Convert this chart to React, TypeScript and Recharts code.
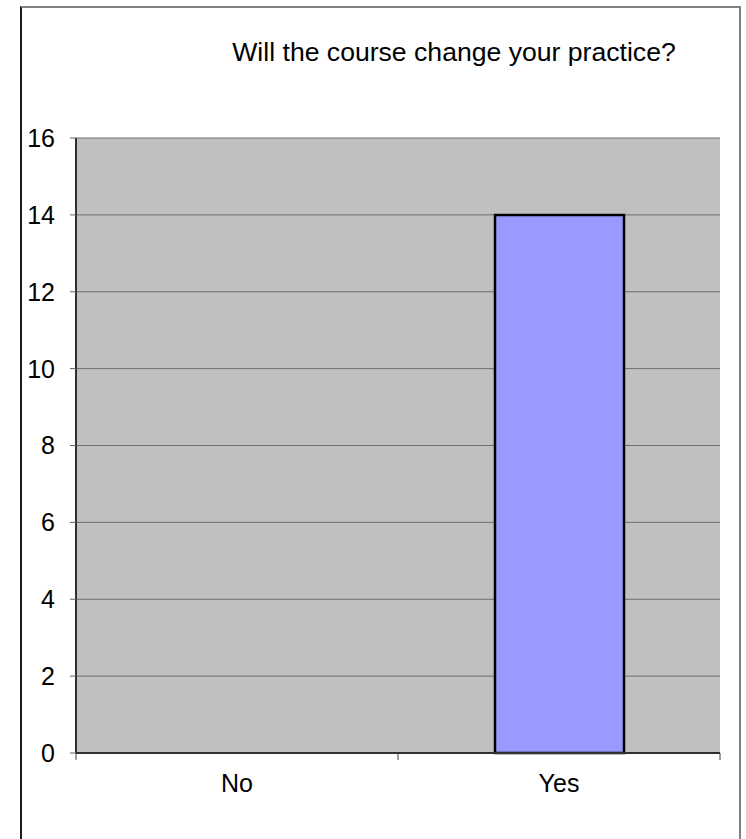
import { BarChart, Bar, XAxis, YAxis, CartesianGrid } from "recharts";

const categories = ["No", "Yes"];
const responses = [0, 14];
const yTicks = [0, 2, 4, 6, 8, 10, 12, 14, 16];

const data = categories.map((answer, i) => ({ answer, count: responses[i] }));

const font = "'Liberation Sans', Arial, sans-serif";
const X_TICK_SIZE = 7;
const X_TICK_MARGIN = 14;

// category labels in the middle, tick marks on the band edges (like Excel)
function CategoryTick(props: any) {
    const { x, y, payload, index } = props;
    const half = payload.offset || 0;
    const axisY = y - X_TICK_SIZE - X_TICK_MARGIN;
    const isLast = index === categories.length - 1;
    return (
        <g>
            <line x1={x - half} x2={x - half} y1={axisY} y2={axisY + X_TICK_SIZE} stroke="#404040" />
            {isLast && (
                <line x1={x + half} x2={x + half} y1={axisY} y2={axisY + X_TICK_SIZE} stroke="#404040" />
            )}
            <text
                x={x}
                y={y}
                dy="0.71em"
                textAnchor="middle"
                fill="#000"
                fontSize={25}
                fontFamily={font}
            >
                {payload.value}
            </text>
        </g>
    );
}

export default function App() {
    return (
        <div>
            {/* frame */}
            <div
                style={{
                    position: "absolute",
                    left: 20,
                    top: 6,
                    width: 721,
                    height: 833,
                    boxSizing: "border-box",
                    borderLeft: "2px solid #1e1e1e",
                    borderTop: "2px solid #808080",
                    borderRight: "2px solid #808080",
                }}
            />

            <div style={{ position: "absolute", left: 20, top: 6, width: 720, height: 833 }}>
                <div
                    style={{
                        position: "absolute",
                        left: 434,
                        top: 33,
                        transform: "translateX(-50%)",
                        whiteSpace: "nowrap",
                        fontFamily: font,
                        fontSize: 26.6,
                        lineHeight: "26px",
                        color: "#000",
                    }}
                >
                    Will the course change your practice?
                </div>

                <BarChart
                    width={720}
                    height={833}
                    data={data}
                    margin={{ top: 132, right: 20, bottom: 46, left: 0 }}
                >
                    <CartesianGrid
                        vertical={false}
                        stroke="#6e6e6e"
                        fill="#c0c0c0"
                        fillOpacity={1}
                    />

                    <XAxis
                        dataKey="answer"
                        tickLine={false}
                        tickSize={X_TICK_SIZE}
                        tickMargin={X_TICK_MARGIN}
                        height={40}
                        interval={0}
                        axisLine={{ stroke: "#303030", strokeWidth: 2 }}
                        tick={<CategoryTick />}
                    />

                    <YAxis
                        domain={[0, 16]}
                        ticks={yTicks}
                        width={56}
                        tickSize={6}
                        tickMargin={15}
                        axisLine={{ stroke: "#303030", strokeWidth: 2 }}
                        tickLine={{ stroke: "#606060" }}
                        tick={{ fill: "#000", fontSize: 25, fontFamily: font }}
                    />

                    <YAxis
                        yAxisId="right"
                        orientation="right"
                        domain={[0, 16]}
                        width={0}
                        tick={false}
                        tickLine={false}
                        axisLine={{ stroke: "#808080", strokeWidth: 2 }}
                    />

                    <Bar
                        dataKey="count"
                        barSize={129}
                        fill="#9999ff"
                        stroke="#000"
                        strokeWidth={2.5}
                        isAnimationActive={false}
                    />
                </BarChart>
            </div>
        </div>
    );
}
